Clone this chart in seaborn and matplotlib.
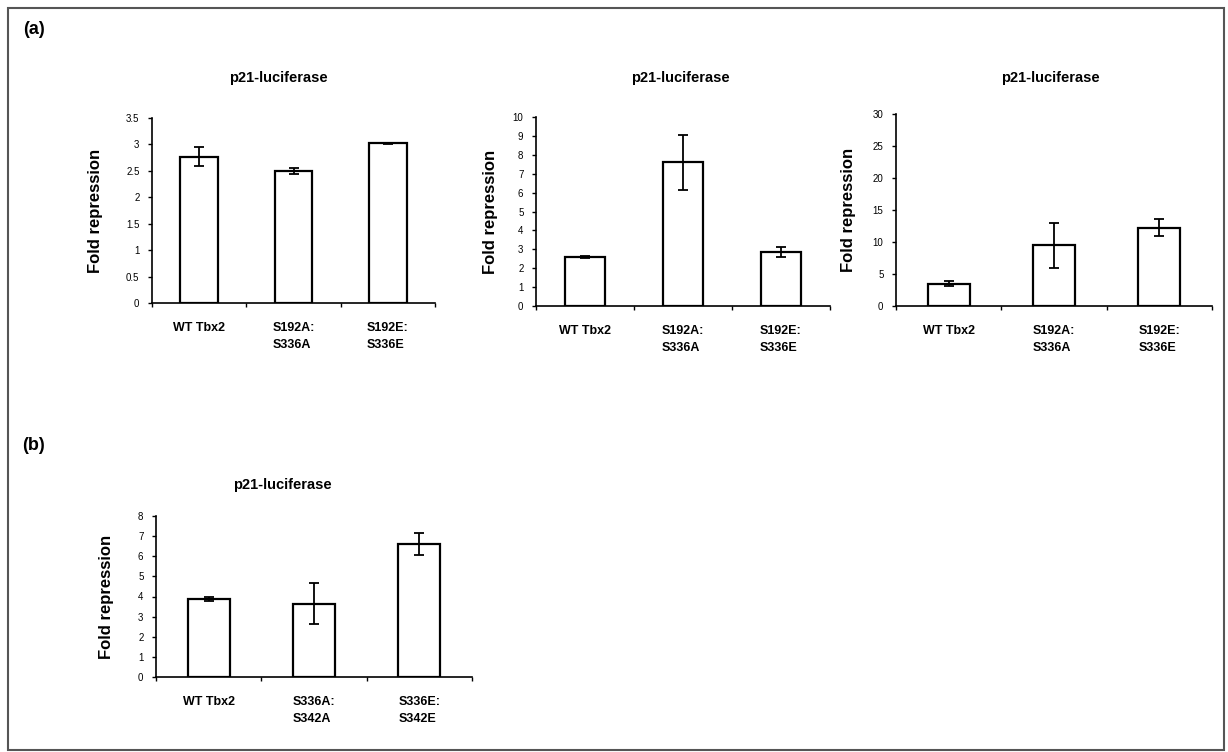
import numpy as np
import pandas as pd
import matplotlib
matplotlib.use("Agg")
import matplotlib.pyplot as plt
import seaborn as sns
from matplotlib.patches import Rectangle

# data
cats_a = ["WT Tbx2", "S192A:\nS336A", "S192E:\nS336E"]
cats_b = ["WT Tbx2", "S336A:\nS342A", "S336E:\nS342E"]

a1_vals = [2.77, 2.50, 3.02]
a1_err = [0.18, 0.06, 0.01]
a2_vals = [2.60, 7.60, 2.85]
a2_err = [0.05, 1.45, 0.25]
a3_vals = [3.50, 9.50, 12.25]
a3_err = [0.35, 3.50, 1.30]
b_vals = [3.90, 3.65, 6.60]
b_err = [0.10, 1.00, 0.55]

a1_ticks = [0, 0.5, 1, 1.5, 2, 2.5, 3, 3.5]
a2_ticks = list(range(0, 11))
a3_ticks = [0, 5, 10, 15, 20, 25, 30]
b_ticks = list(range(0, 9))

sns.set_style("white")
plt.rcParams["font.family"] = ["Liberation Sans", "DejaVu Sans"]
plt.rcParams["text.color"] = "black"
plt.rcParams["xtick.color"] = "black"
plt.rcParams["ytick.color"] = "black"

W, H = 1228, 752
fig = plt.figure(figsize=(W / 100, H / 100), dpi=100)


def px_axes(x0, y0, x1, y1):
    # pixel box (left, top, right, bottom) -> figure fractions
    return fig.add_axes([x0 / W, 1 - y1 / H, (x1 - x0) / W, (y1 - y0) / H])


def panel(ax, cats, vals, errs, yticks):
    df = pd.DataFrame({"cond": cats, "fold": vals})
    sns.barplot(data=df, x="cond", y="fold", ax=ax, color="white",
                edgecolor="black", linewidth=1.6, width=0.4, errorbar=None)
    ax.errorbar(np.arange(len(vals)), vals, yerr=errs, fmt="none",
                ecolor="black", elinewidth=1.3, capsize=3.5, capthick=1.3)
    ax.set_xlim(-0.5, len(cats) - 0.5)
    ax.set_ylim(yticks[0], yticks[-1])
    ax.set_yticks(yticks)
    ax.set_yticklabels(["%g" % t for t in yticks], fontsize=7)
    ax.set_xticks(range(len(cats)))
    ax.set_xticklabels(cats, fontsize=9, fontweight="bold", ha="center",
                       multialignment="left", linespacing=1.5)
    ax.tick_params(axis="x", which="major", bottom=True, length=0, pad=14)
    ax.set_xticks(np.arange(-0.5, len(cats), 1.0), minor=True)
    ax.tick_params(axis="x", which="minor", bottom=True, length=3,
                   direction="out", width=1, color="black")
    ax.tick_params(axis="y", left=True, length=3, direction="out", width=1,
                   color="black", pad=6)
    sns.despine(ax=ax)
    for s in ("left", "bottom"):
        ax.spines[s].set_color("black")
        ax.spines[s].set_linewidth(1.2)
    ax.set_xlabel("")
    ax.set_ylabel("")


ax1 = px_axes(152, 118, 435, 303)
panel(ax1, cats_a, a1_vals, a1_err, a1_ticks)
ax2 = px_axes(536, 117, 830, 306)
panel(ax2, cats_a, a2_vals, a2_err, a2_ticks)
ax3 = px_axes(896, 114, 1212, 306)
panel(ax3, cats_a, a3_vals, a3_err, a3_ticks)
axb = px_axes(156, 516, 472, 677)
panel(axb, cats_b, b_vals, b_err, b_ticks)

# titles and y labels placed in pixels
for cx, cy in [(278, 78), (680, 78), (1050, 78), (282, 485)]:
    fig.text(cx / W, 1 - cy / H, "p21-luciferase", ha="center", va="center",
             fontsize=10.5, fontweight="bold")

for lx, ax in [(95, ax1), (490, ax2), (848, ax3), (107, axb)]:
    pos = ax.get_position()
    fig.text(lx / W, (pos.y0 + pos.y1) / 2, "Fold repression", rotation=90,
             ha="center", va="center", fontsize=12, fontweight="bold")

fig.text(23 / W, 1 - 30 / H, "(a)", fontsize=13, fontweight="bold",
         ha="left", va="center")
fig.text(22 / W, 1 - 445 / H, "(b)", fontsize=13, fontweight="bold",
         ha="left", va="center")

# outer frame
fig.add_artist(Rectangle((8 / W, 1 - 750 / H), (1224 - 8) / W, (750 - 8) / H,
                         transform=fig.transFigure, fill=False,
                         edgecolor="#555555", linewidth=1.5))

fig.savefig("out.png", dpi=100)
